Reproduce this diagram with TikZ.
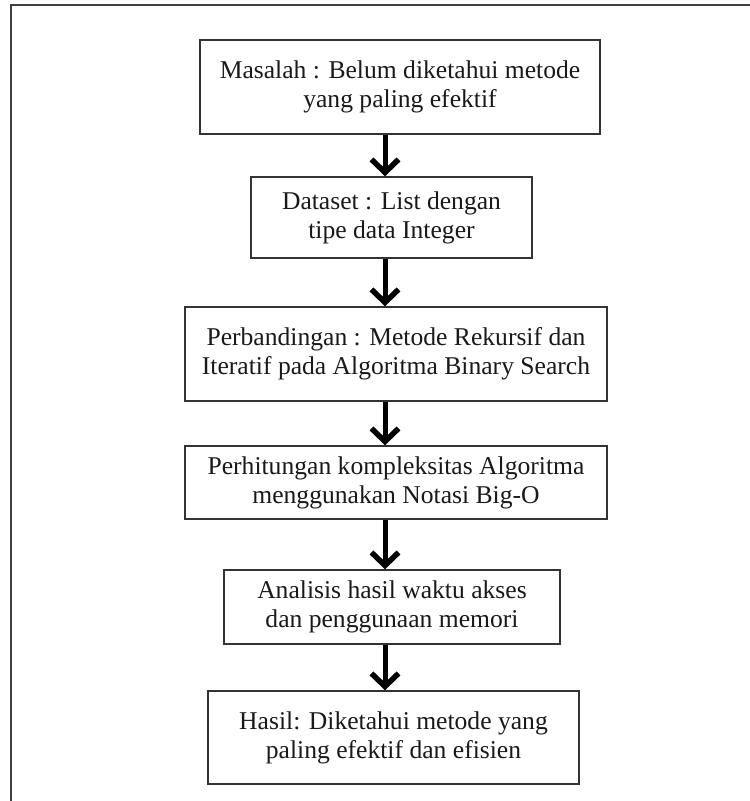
\documentclass[tikz,border=0pt]{standalone}
\usepackage{fontspec}
\setmainfont{Liberation Serif}
\usetikzlibrary{arrows.meta}
\begin{document}
\begin{tikzpicture}[x=1pt,y=-1pt,
  box/.style={draw=black!80, line width=1.5pt, align=center, inner sep=0pt,
    font=\fontsize{25.6}{29}\selectfont, text=black!90},
  arr/.style={draw=black, line width=5pt, -{Straight Barb[length=13pt,width=27pt,line width=5.5pt]}},
  frameline/.style={draw=black!75, line width=2pt}]
\useasboundingbox (0,0) rectangle (750,801);
% outer frame (top and left only)
\coordinate (fa) at (11,801);
\coordinate (fb) at (11,5);
\coordinate (fc) at (750,5);
\draw[frameline] (fa) -- (fb) -- (fc);
% boxes
\node[box, minimum width=400pt, minimum height=94pt] (b1) at (400,87)
  {Masalah : Belum diketahui metode\\yang paling efektif};
\node[box, minimum width=281pt, minimum height=81pt] (b2) at (391.5,217.5)
  {Dataset : List dengan\\tipe data Integer};
\node[box, minimum width=422pt, minimum height=94pt] (b3) at (396,354)
  {Perbandingan : Metode Rekursif dan\\Iteratif pada Algoritma Binary Search};
\node[box, minimum width=422pt, minimum height=73pt] (b4) at (396,482.5)
  {Perhitungan kompleksitas Algoritma\\menggunakan Notasi Big-O};
\node[box, minimum width=336pt, minimum height=74pt] (b5) at (392,607)
  {Analisis hasil waktu akses\\dan penggunaan memori};
\node[box, minimum width=371pt, minimum height=93pt] (b6) at (393.5,737.5)
  {Hasil: Diketahui metode yang\\paling efektif dan efisien};
% arrows
\coordinate (ax) at (385,0);
\draw[arr] (b1.south -| ax) -- (b2.north -| ax);
\draw[arr] (b2.south -| ax) -- (b3.north -| ax);
\draw[arr] (b3.south -| ax) -- (b4.north -| ax);
\draw[arr] (b4.south -| ax) -- (b5.north -| ax);
\draw[arr] (b5.south -| ax) -- (b6.north -| ax);
\end{tikzpicture}
\end{document}
